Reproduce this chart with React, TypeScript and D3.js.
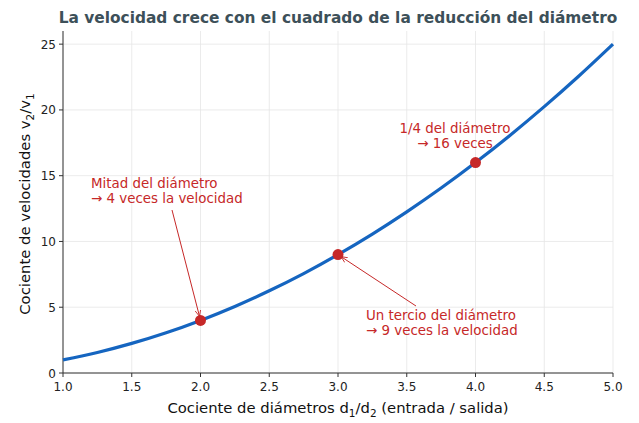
import React from 'react';
import * as d3 from 'd3';

// diameter ratio vs velocity ratio
const RATIO_X = [1, 1.25, 1.5, 1.75, 2, 2.25, 2.5, 2.75, 3, 3.25, 3.5, 3.75, 4, 4.25, 4.5, 4.75, 5];
const RATIO_Y = [1, 1.56, 2.25, 3.06, 4, 5.06, 6.25, 7.56, 9, 10.56, 12.25, 14.06, 16, 18.06, 20.25, 22.56, 25];

const MARK_X = [2, 3, 4];
const MARK_Y = [4, 9, 16];

const X_TICKS = [1, 1.5, 2, 2.5, 3, 3.5, 4, 4.5, 5];
const Y_TICKS = [0, 5, 10, 15, 20, 25];

const W = 639;
const H = 423;
const margin = { top: 31, right: 26, bottom: 50, left: 63 };

const RED = '#c62828';
const BLUE = '#1565c0';
const FONT = 'DejaVu Sans, sans-serif';

const App: React.FC = () => {
  const x = d3.scaleLinear().domain([1, 5]).range([margin.left, W - margin.right]);
  const y = d3.scaleLinear().domain([0, 26]).range([H - margin.bottom, margin.top]);

  const pts = RATIO_X.map((v, i) => [v, RATIO_Y[i]] as [number, number]);
  const line = d3.line<[number, number]>()
    .curve(d3.curveMonotoneX)
    .x(d => x(d[0]))
    .y(d => y(d[1]));

  const x0 = margin.left;
  const x1 = W - margin.right;
  const y0 = H - margin.bottom;
  const y1 = margin.top;

  return (
    <svg width={W} height={H} style={{ position: 'absolute', left: 0, top: 0, background: '#fff' }} fontFamily={FONT}>
      <defs>
        <marker id="arr" viewBox="0 0 10 10" refX="9" refY="5" markerWidth="7" markerHeight="7" orient="auto-start-reverse">
          <path d="M0,1 L9,5 L0,9" fill="none" stroke={RED} strokeWidth="1.2" />
        </marker>
      </defs>

      <text x={338} y={23} textAnchor="middle" fontSize={15.4} fontWeight="bold" fill="#3d5059">
        La velocidad crece con el cuadrado de la reducción del diámetro
      </text>

      {/* grid */}
      <g stroke="#e6e6e6" strokeWidth={0.8}>
        {X_TICKS.map(t => <line key={'gx' + t} x1={x(t)} x2={x(t)} y1={y0} y2={y1} />)}
        {Y_TICKS.map(t => <line key={'gy' + t} x1={x0} x2={x1} y1={y(t)} y2={y(t)} />)}
      </g>

      {/* spines */}
      <line x1={x0} x2={x0} y1={y0} y2={y1} stroke="#333" strokeWidth={1} />
      <line x1={x0} x2={x1} y1={y0} y2={y0} stroke="#333" strokeWidth={1} />

      {/* ticks */}
      <g fontSize={12} fill="#222">
        {X_TICKS.map(t => (
          <g key={'tx' + t}>
            <line x1={x(t)} x2={x(t)} y1={y0} y2={y0 + 4} stroke="#333" />
            <text x={x(t)} y={y0 + 18} textAnchor="middle">{t.toFixed(1)}</text>
          </g>
        ))}
        {Y_TICKS.map(t => (
          <g key={'ty' + t}>
            <line x1={x0 - 4} x2={x0} y1={y(t)} y2={y(t)} stroke="#333" />
            <text x={x0 - 7} y={y(t) + 4.5} textAnchor="end">{t}</text>
          </g>
        ))}
      </g>

      {/* axis labels */}
      <text x={338} y={413} textAnchor="middle" fontSize={14.8} fill="#111">
        Cociente de diámetros d<tspan fontSize={10.5} dy={3.5}>1</tspan><tspan dy={-3.5}>/d</tspan><tspan fontSize={10.5} dy={3.5}>2</tspan><tspan dy={-3.5}> (entrada / salida)</tspan>
      </text>
      <text transform={`translate(30,${(y0 + y1) / 2 + 2}) rotate(-90)`} textAnchor="middle" fontSize={14.8} fill="#111">
        Cociente de velocidades v<tspan fontSize={10.5} dy={3.5}>2</tspan><tspan dy={-3.5}>/v</tspan><tspan fontSize={10.5} dy={3.5}>1</tspan>
      </text>

      {/* curve */}
      <path d={line(pts) ?? ''} fill="none" stroke={BLUE} strokeWidth={3.2} />

      {/* arrows */}
      <line x1={172} y1={210} x2={x(2) - 1} y2={y(4) - 4} stroke={RED} strokeWidth={1} markerEnd="url(#arr)" />
      <line x1={416} y1={306} x2={x(3) + 3} y2={y(9) + 2} stroke={RED} strokeWidth={1} markerEnd="url(#arr)" />

      {MARK_X.map((v, i) => (
        <circle key={'m' + v} cx={x(v)} cy={y(MARK_Y[i])} r={5.5} fill={RED} />
      ))}

      {/* annotations */}
      <g fontSize={13.4} fill={RED}>
        <text x={91} y={188}>Mitad del diámetro</text>
        <text x={91} y={203}>→ 4 veces la velocidad</text>
        <text x={366} y={320}>Un tercio del diámetro</text>
        <text x={366} y={335}>→ 9 veces la velocidad</text>
        <text x={455} y={133} textAnchor="middle">1/4 del diámetro</text>
        <text x={455} y={148} textAnchor="middle">→ 16 veces</text>
      </g>
    </svg>
  );
};

export default App;
